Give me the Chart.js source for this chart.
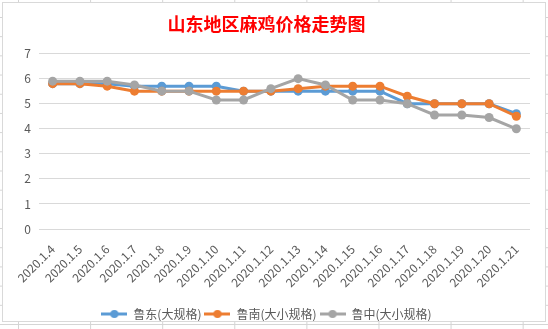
<!DOCTYPE html>
<html>
<head>
<meta charset="utf-8">
<script src="https://cdn.jsdelivr.net/npm/chart.js@4"></script>
<style>
  html, body { margin: 0; padding: 0; }
  body {
    width: 548px; height: 329px; position: relative; overflow: hidden;
    background-color: #fff;
    background-image:
      linear-gradient(to right, #d4d4d4 1px, transparent 1px),
      linear-gradient(to bottom, #d4d4d4 1px, transparent 1px);
    background-size: 72.1px 19.2px;
    background-position: 18px 17px;
  }
  #box {
    position: absolute; left: 2px; top: 2px; width: 544px; height: 320px;
    box-sizing: border-box; border: 1px solid #d9d9d9; background: #fff;
  }
  canvas { display: block; }
</style>
</head>
<body>
<div id="box"><canvas id="chart" width="542" height="318"></canvas></div>
<script>
// 山东地区麻鸡价格 (元/斤)
const dates = [
  "2020.1.4", "2020.1.5", "2020.1.6", "2020.1.7", "2020.1.8", "2020.1.9",
  "2020.1.10", "2020.1.11", "2020.1.12", "2020.1.13", "2020.1.14", "2020.1.15",
  "2020.1.16", "2020.1.17", "2020.1.18", "2020.1.19", "2020.1.20", "2020.1.21"
];
const ludong = [5.8, 5.8, 5.8, 5.7, 5.7, 5.7, 5.7, 5.5, 5.5, 5.5, 5.5, 5.5, 5.5, 5.0, 5.0, 5.0, 5.0, 4.6];
const lunan = [5.8, 5.8, 5.7, 5.5, 5.5, 5.5, 5.5, 5.5, 5.5, 5.6, 5.7, 5.7, 5.7, 5.3, 5.0, 5.0, 5.0, 4.5];
const luzhong = [5.9, 5.9, 5.9, 5.75, 5.5, 5.5, 5.15, 5.15, 5.6, 6.0, 5.75, 5.15, 5.15, 5.0, 4.55, 4.55, 4.45, 4.0];
const yTicks = [0, 1, 2, 3, 4, 5, 6, 7];

const TEXT = "#595959";
const FONT = "'Noto Sans CJK SC', 'Noto Sans', sans-serif";

// legend marker: short line with a dot in the middle
function legendMarker(color) {
  const c = document.createElement("canvas");
  c.width = 26; c.height = 10;
  const g = c.getContext("2d");
  g.strokeStyle = color; g.lineWidth = 3;
  g.beginPath(); g.moveTo(0, 5); g.lineTo(26, 5); g.stroke();
  g.fillStyle = color;
  g.beginPath(); g.arc(13, 5, 4, 0, Math.PI * 2); g.fill();
  return c;
}

function series(label, data, color, order) {
  return {
    label: label,
    data: data,
    borderColor: color,
    backgroundColor: color,
    borderWidth: 3,
    pointStyle: "circle",
    pointRadius: 4.5,
    pointHoverRadius: 4.5,
    pointBorderWidth: 0,
    tension: 0,
    order: order
  };
}

const ctx = document.getElementById("chart").getContext("2d");

new Chart(ctx, {
  type: "line",
  data: {
    labels: dates,
    datasets: [
      series("鲁东(大规格)", ludong, "#5B9BD5", 3),
      series("鲁南(大小规格)", lunan, "#ED7D31", 2),
      series("鲁中(大小规格)", luzhong, "#A5A5A5", 1)
    ]
  },
  options: {
    responsive: false,
    animation: false,
    layout: { padding: { left: 0, right: 15, top: 0, bottom: -9 } },
    plugins: {
      title: {
        display: true,
        text: "山东地区麻鸡价格走势图",
        color: "#FF0000",
        font: { family: FONT, size: 18, weight: "bold" },
        padding: { top: 10, bottom: 19 }
      },
      legend: {
        position: "bottom",
        labels: {
          usePointStyle: true,
          pointStyleWidth: 26,
          color: TEXT,
          font: { family: FONT, size: 12 },
          padding: 3,
          sort: (a, b) => a.datasetIndex - b.datasetIndex,
          generateLabels: chart => {
            const items = Chart.defaults.plugins.legend.labels.generateLabels(chart);
            items.forEach(it => {
              it.pointStyle = legendMarker(chart.data.datasets[it.datasetIndex].borderColor);
            });
            return items;
          }
        }
      },
      tooltip: { enabled: false }
    },
    scales: {
      x: {
        offset: true,
        grid: { display: false, drawTicks: false },
        border: { display: false },
        ticks: {
          color: TEXT,
          font: { family: FONT, size: 12 },
          autoSkip: false,
          minRotation: 45,
          maxRotation: 45,
          padding: 13
        },
        afterFit: s => { s.height = 76; }
      },
      y: {
        min: 0,
        max: 7,
        afterBuildTicks: s => { s.ticks = yTicks.map(v => ({ value: v })); },
        grid: { color: "#d9d9d9", drawTicks: false },
        border: { display: false },
        ticks: {
          color: TEXT,
          font: { family: FONT, size: 12 },
          padding: 8
        },
        afterFit: s => { s.width = 36; }
      }
    }
  }
});
</script>
</body>
</html>
